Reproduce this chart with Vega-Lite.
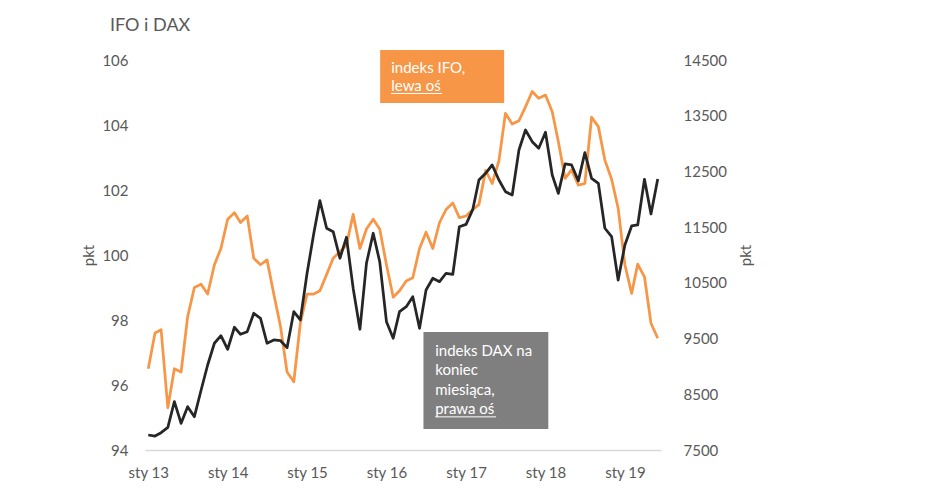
{
  "$schema": "https://vega.github.io/schema/vega-lite/v6.json",
  "autosize": {"type": "none"},
  "padding": {"left": 145, "top": 60, "right": 284, "bottom": 52},
  "width": 516,
  "height": 390,
  "background": "white",
  "title": {"text": "IFO i DAX", "anchor": "start", "frame": "group", "dx": -35, "offset": 1, "baseline": "alphabetic", "fontSize": 18, "fontWeight": "normal", "color": "#595959", "font": "Lato"},
  "config": {
    "view": {"stroke": null},
    "font": "Lato",
    "axis": {"grid": false, "ticks": false, "labelColor": "#595959", "labelFontSize": 15, "titleColor": "#595959", "titleFontSize": 15, "titleFontWeight": "normal"}
  },
  "datasets": {
    "main": [
      {"d": "2013/01/01", "ifo": 96.5, "dax": 7769},
      {"d": "2013/02/01", "ifo": 97.6, "dax": 7751},
      {"d": "2013/03/01", "ifo": 97.7, "dax": 7811},
      {"d": "2013/04/01", "ifo": 95.3, "dax": 7907},
      {"d": "2013/05/01", "ifo": 96.5, "dax": 8367},
      {"d": "2013/06/01", "ifo": 96.4, "dax": 7979},
      {"d": "2013/07/01", "ifo": 98.1, "dax": 8278},
      {"d": "2013/08/01", "ifo": 99.0, "dax": 8098},
      {"d": "2013/09/01", "ifo": 99.1, "dax": 8577},
      {"d": "2013/10/01", "ifo": 98.8, "dax": 9026},
      {"d": "2013/11/01", "ifo": 99.7, "dax": 9416},
      {"d": "2013/12/01", "ifo": 100.2, "dax": 9552},
      {"d": "2014/01/01", "ifo": 101.1, "dax": 9308},
      {"d": "2014/02/01", "ifo": 101.3, "dax": 9703},
      {"d": "2014/03/01", "ifo": 101.0, "dax": 9577},
      {"d": "2014/04/01", "ifo": 101.2, "dax": 9624},
      {"d": "2014/05/01", "ifo": 99.9, "dax": 9954},
      {"d": "2014/06/01", "ifo": 99.7, "dax": 9864},
      {"d": "2014/07/01", "ifo": 99.85, "dax": 9416},
      {"d": "2014/08/01", "ifo": 98.8, "dax": 9475},
      {"d": "2014/09/01", "ifo": 97.8, "dax": 9462},
      {"d": "2014/10/01", "ifo": 96.4, "dax": 9337},
      {"d": "2014/11/01", "ifo": 96.1, "dax": 9983},
      {"d": "2014/12/01", "ifo": 97.9, "dax": 9834},
      {"d": "2015/01/01", "ifo": 98.8, "dax": 10672},
      {"d": "2015/02/01", "ifo": 98.8, "dax": 11390},
      {"d": "2015/03/01", "ifo": 98.9, "dax": 11976},
      {"d": "2015/04/01", "ifo": 99.4, "dax": 11480},
      {"d": "2015/05/01", "ifo": 99.9, "dax": 11419},
      {"d": "2015/06/01", "ifo": 100.1, "dax": 10941},
      {"d": "2015/07/01", "ifo": 100.3, "dax": 11318},
      {"d": "2015/08/01", "ifo": 101.25, "dax": 10400},
      {"d": "2015/09/01", "ifo": 100.2, "dax": 9667},
      {"d": "2015/10/01", "ifo": 100.8, "dax": 10851},
      {"d": "2015/11/01", "ifo": 101.1, "dax": 11390},
      {"d": "2015/12/01", "ifo": 100.8, "dax": 10880},
      {"d": "2016/01/01", "ifo": 99.7, "dax": 9803},
      {"d": "2016/02/01", "ifo": 98.7, "dax": 9505},
      {"d": "2016/03/01", "ifo": 98.9, "dax": 9983},
      {"d": "2016/04/01", "ifo": 99.2, "dax": 10072},
      {"d": "2016/05/01", "ifo": 99.3, "dax": 10252},
      {"d": "2016/06/01", "ifo": 100.2, "dax": 9684},
      {"d": "2016/07/01", "ifo": 100.7, "dax": 10372},
      {"d": "2016/08/01", "ifo": 100.2, "dax": 10582},
      {"d": "2016/09/01", "ifo": 101.0, "dax": 10521},
      {"d": "2016/10/01", "ifo": 101.4, "dax": 10672},
      {"d": "2016/11/01", "ifo": 101.6, "dax": 10654},
      {"d": "2016/12/01", "ifo": 101.15, "dax": 11508},
      {"d": "2017/01/01", "ifo": 101.2, "dax": 11550},
      {"d": "2017/02/01", "ifo": 101.4, "dax": 11820},
      {"d": "2017/03/01", "ifo": 101.55, "dax": 12346},
      {"d": "2017/04/01", "ifo": 102.6, "dax": 12466},
      {"d": "2017/05/01", "ifo": 102.2, "dax": 12616},
      {"d": "2017/06/01", "ifo": 102.9, "dax": 12346},
      {"d": "2017/07/01", "ifo": 104.36, "dax": 12137},
      {"d": "2017/08/01", "ifo": 104.03, "dax": 12077},
      {"d": "2017/09/01", "ifo": 104.13, "dax": 12885},
      {"d": "2017/10/01", "ifo": 104.56, "dax": 13244},
      {"d": "2017/11/01", "ifo": 105.03, "dax": 13034},
      {"d": "2017/12/01", "ifo": 104.82, "dax": 12916},
      {"d": "2018/01/01", "ifo": 104.92, "dax": 13203},
      {"d": "2018/02/01", "ifo": 104.41, "dax": 12436},
      {"d": "2018/03/01", "ifo": 103.49, "dax": 12107},
      {"d": "2018/04/01", "ifo": 102.36, "dax": 12634},
      {"d": "2018/05/01", "ifo": 102.62, "dax": 12616},
      {"d": "2018/06/01", "ifo": 102.15, "dax": 12330},
      {"d": "2018/07/01", "ifo": 102.2, "dax": 12837},
      {"d": "2018/08/01", "ifo": 104.24, "dax": 12377},
      {"d": "2018/09/01", "ifo": 103.95, "dax": 12287},
      {"d": "2018/10/01", "ifo": 102.92, "dax": 11480},
      {"d": "2018/11/01", "ifo": 102.33, "dax": 11329},
      {"d": "2018/12/01", "ifo": 101.44, "dax": 10551},
      {"d": "2019/01/01", "ifo": 99.7, "dax": 11180},
      {"d": "2019/02/01", "ifo": 98.82, "dax": 11521},
      {"d": "2019/03/01", "ifo": 99.72, "dax": 11539},
      {"d": "2019/04/01", "ifo": 99.33, "dax": 12359},
      {"d": "2019/05/01", "ifo": 97.9, "dax": 11736},
      {"d": "2019/06/01", "ifo": 97.44, "dax": 12364}
    ],
    "boxO": [{"x": "2015/12/03", "x2": "2017/06/25", "y": 106.31, "y2": 104.68}],
    "boxG": [{"x": "2016/06/19", "x2": "2018/01/14", "y": 97.63, "y2": 94.65}],
    "txtO": [
      {"x": "2016/01/23", "y": 105.6, "t": "indeks IFO,"},
      {"x": "2016/01/23", "y": 105.05, "t": "lewa oś"}
    ],
    "txtG": [
      {"x": "2016/08/12", "y": 96.9, "t": "indeks DAX na"},
      {"x": "2016/08/12", "y": 96.31, "t": "koniec"},
      {"x": "2016/08/12", "y": 95.69, "t": "miesiąca,"},
      {"x": "2016/08/12", "y": 95.1, "t": "prawa oś"}
    ],
    "ul": [
      {"x": "2016/01/22", "x2": "2016/09/12", "y": 104.97},
      {"x": "2016/08/12", "x2": "2017/05/19", "y": 95.02}
    ]
  },
  "layer": [
    {
      "layer": [
        {
          "data": {"name": "main"},
          "mark": {"type": "line", "color": "#f79646", "strokeWidth": 2.75, "strokeJoin": "round"},
          "encoding": {
            "x": {"field": "d", "type": "temporal", "title": null,
              "scale": {"domain": [{"year": 2012, "month": 12, "date": 17}, {"year": 2019, "month": 6, "date": 16}]},
              "axis": {"values": [{"year": 2013, "month": 1, "date": 1}, {"year": 2014, "month": 1, "date": 1}, {"year": 2015, "month": 1, "date": 1}, {"year": 2016, "month": 1, "date": 1}, {"year": 2017, "month": 1, "date": 1}, {"year": 2018, "month": 1, "date": 1}, {"year": 2019, "month": 1, "date": 1}],
                "labelExpr": "'sty ' + timeFormat(datum.value, '%y')", "domainColor": "#d9d9d9", "domainWidth": 1.5, "labelPadding": 15}},
            "y": {"field": "ifo", "type": "quantitative", "title": "pkt",
              "scale": {"domain": [94, 106], "zero": false, "nice": false},
              "axis": {"orient": "left", "values": [94, 96, 98, 100, 102, 104, 106], "domain": false, "labelPadding": 17, "titleX": -57, "titleY": 195, "titleAngle": 270, "titleAlign": "center", "titleBaseline": "middle"}}
          }
        },
        {
          "data": {"name": "boxO"},
          "mark": {"type": "rect", "color": "#f79646"},
          "encoding": {
            "x": {"field": "x", "type": "temporal", "title": null},
            "x2": {"field": "x2"},
            "y": {"field": "y", "type": "quantitative", "title": "pkt"},
            "y2": {"field": "y2"}
          }
        },
        {
          "data": {"name": "boxG"},
          "mark": {"type": "rect", "color": "#7f7f7f"},
          "encoding": {
            "x": {"field": "x", "type": "temporal", "title": null},
            "x2": {"field": "x2"},
            "y": {"field": "y", "type": "quantitative", "title": "pkt"},
            "y2": {"field": "y2"}
          }
        },
        {
          "data": {"name": "txtO"},
          "mark": {"type": "text", "color": "white", "fontSize": 15, "align": "left", "baseline": "alphabetic"},
          "encoding": {
            "x": {"field": "x", "type": "temporal", "title": null},
            "y": {"field": "y", "type": "quantitative", "title": "pkt"},
            "text": {"field": "t"}
          }
        },
        {
          "data": {"name": "txtG"},
          "mark": {"type": "text", "color": "white", "fontSize": 15, "align": "left", "baseline": "alphabetic"},
          "encoding": {
            "x": {"field": "x", "type": "temporal", "title": null},
            "y": {"field": "y", "type": "quantitative", "title": "pkt"},
            "text": {"field": "t"}
          }
        },
        {
          "data": {"name": "ul"},
          "mark": {"type": "rule", "color": "white", "strokeWidth": 1},
          "encoding": {
            "x": {"field": "x", "type": "temporal", "title": null},
            "x2": {"field": "x2"},
            "y": {"field": "y", "type": "quantitative", "title": "pkt"}
          }
        }
      ]
    },
    {
      "data": {"name": "main"},
      "mark": {"type": "line", "color": "#262626", "strokeWidth": 2.75, "strokeJoin": "round"},
      "encoding": {
        "x": {"field": "d", "type": "temporal", "title": null},
        "y": {"field": "dax", "type": "quantitative", "title": "pkt",
          "scale": {"domain": [7500, 14500], "zero": false, "nice": false},
          "axis": {"orient": "right", "values": [7500, 8500, 9500, 10500, 11500, 12500, 13500, 14500], "format": "d", "domain": false, "labelPadding": 22, "titleX": 84, "titleY": 195, "titleAngle": 270, "titleAlign": "center", "titleBaseline": "middle"}}
      }
    }
  ],
  "resolve": {"scale": {"y": "independent"}}
}
